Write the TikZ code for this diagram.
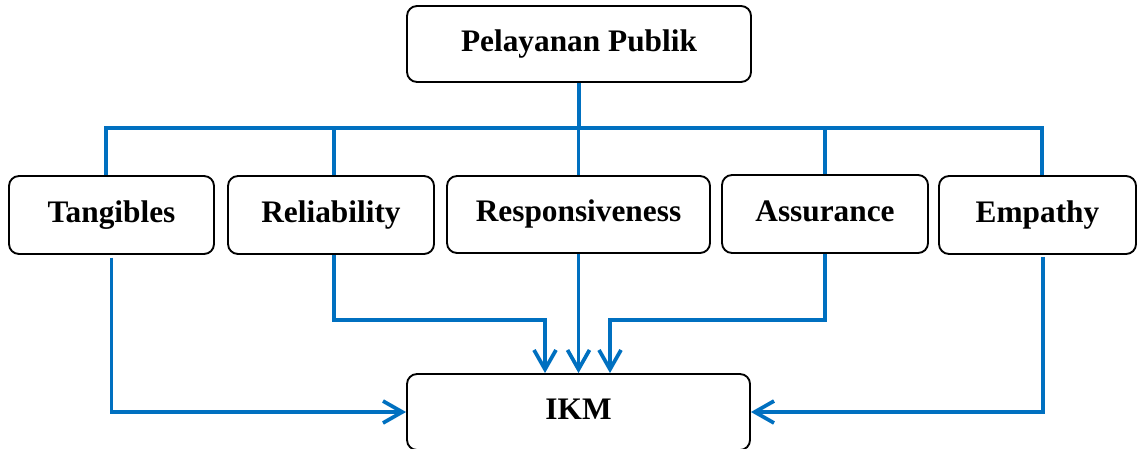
\documentclass[tikz,border=0pt]{standalone}
\usepackage{fontspec}
\setmainfont{Liberation Serif}
\usetikzlibrary{arrows.meta}
\definecolor{lineblue}{HTML}{0070C0}
\tikzset{
  box/.style={draw=black, line width=1.4pt, rounded corners=7.5pt, inner sep=0pt,
    font=\fontsize{23.5pt}{28pt}\selectfont\bfseries, align=center,
    text height=16pt, text depth=5pt},
  link/.style={draw=lineblue, line width=2.8pt},
  arr/.style={link, -{Straight Barb[length=14.5pt,width=16.5pt,line width=2.8pt]}}
}
\begin{document}
\begin{tikzpicture}[x=0.75pt,y=-0.75pt]
\useasboundingbox (0,0) rectangle (1137,449);
\clip (0,0) rectangle (1137,449);
% boxes
\node[box, minimum width=258pt, minimum height=57pt] (pp) at (579,44) {Pelayanan Publik};
\node[box, minimum width=153.75pt, minimum height=58.5pt] (tan) at (111.5,215) {Tangibles};
\node[box, minimum width=154.5pt, minimum height=58.5pt] (rel) at (331,215) {Reliability};
\node[box, minimum width=197.25pt, minimum height=57.75pt] (res) at (578.5,214.5) {Responsiveness};
\node[box, minimum width=154.5pt, minimum height=58.5pt] (ass) at (825,214) {Assurance};
\node[box, minimum width=147.75pt, minimum height=58.5pt] (emp) at (1037.5,215) {Empathy};
\node[box, minimum width=257.25pt, minimum height=57pt] (ikm) at (578.5,412) {IKM};
% helper coordinates
\coordinate (busL) at (106,128);
\coordinate (busR) at (1042,128);
\coordinate (jl) at (545,320);
\coordinate (jr) at (610,320);
% top tree
\draw[link] (pp.south) -- (pp.south |- busL);
\draw[link] (busL |- tan.north) -- (busL) -- (busR) -- (busR |- emp.north);
\draw[link] ([xshift=2.25pt]rel.north) -- ([xshift=2.25pt]rel.north |- busL);
\draw[link] (res.north) -- (res.north |- busL);
\draw[link] (ass.north) -- (ass.north |- busL);
% bottom arrows
\draw[arr] ([yshift=-2pt]tan.south) |- (ikm.west);
\draw[arr] ([xshift=2.25pt]rel.south) |- (jl) -- (jl |- ikm.north);
\draw[arr] (res.south) -- (res.south |- ikm.north);
\draw[arr] (ass.south) |- (jr) -- (jr |- ikm.north);
\draw[arr] ([xshift=4pt,yshift=-1.5pt]emp.south) |- (ikm.east);
\end{tikzpicture}
\end{document}
